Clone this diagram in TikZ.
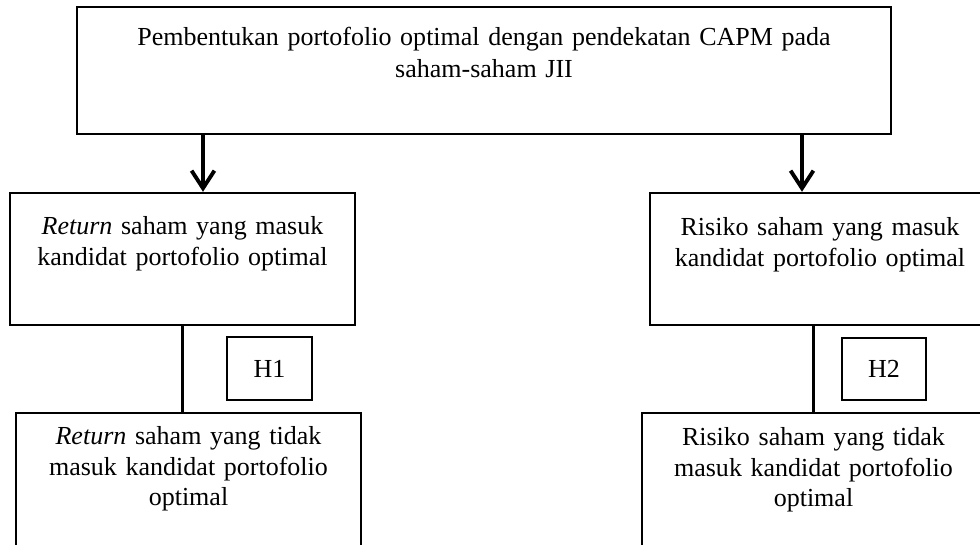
\documentclass[tikz,border=0pt]{standalone}
\usepackage{fontspec}
\setmainfont{Liberation Serif}
\usetikzlibrary{arrows.meta,positioning}
\tikzset{
    kotak/.style={draw, line width=1.4pt, inner sep=0pt, font=\fontsize{14.8}{17.5}\selectfont},
    teks/.style={align=center, text width=6.6cm, inner sep=0pt, anchor=base, font=\fontsize{14.8}{17.3}\selectfont},
    garis/.style={line width=2.2pt},
    panah/.style={line width=2.2pt, -{Straight Barb[length=10pt,width=13pt]}}
}

\begin{document}
\begin{tikzpicture}
    % page size
    \fill[white] (0,0) rectangle (19.6,-10.88);
    \useasboundingbox (0,0) rectangle (19.6,-10.88);

    % title
    \node[kotak, minimum width=16.28cm, minimum height=2.54cm] (judul) at (9.68,-1.41) {};
    \node[teks, text width=15cm, font=\fontsize{14.8}{18.2}\selectfont] (judulTeks) at ([yshift=-0.8cm]judul.north)
        {Pembentukan portofolio optimal dengan pendekatan CAPM pada\\ saham-saham JII};

    % return
    \node[kotak, minimum width=6.9cm, minimum height=2.64cm] (retMasuk) at (3.65,-5.18) {};
    \node[teks] (retMasukTeks) at ([yshift=-0.86cm]retMasuk.north)
        {\textit{Return} saham yang masuk\\ kandidat portofolio optimal};
    \node[kotak, minimum width=6.9cm, minimum height=3.14cm] (retTidak) at (3.77,-9.83) {};
    \node[teks] (retTidakTeks) at ([yshift=-0.66cm]retTidak.north)
        {\textit{Return} saham yang tidak\\ masuk kandidat portofolio\\ optimal};
    \node[kotak, minimum width=1.7cm, minimum height=1.26cm] (h1) at (5.39,-7.37) {H1};

    % risiko
    \node[kotak, minimum width=6.8cm, minimum height=2.64cm] (risMasuk) at (16.4,-5.18) {};
    \node[teks] (risMasukTeks) at ([yshift=-0.88cm]risMasuk.north)
        {Risiko saham yang masuk\\ kandidat portofolio optimal};
    \node[kotak, minimum width=6.86cm, minimum height=3.14cm] (risTidak) at (16.27,-9.83) {};
    \node[teks] (risTidakTeks) at ([yshift=-0.68cm]risTidak.north)
        {Risiko saham yang tidak\\ masuk kandidat portofolio\\ optimal};
    \node[kotak, minimum width=1.68cm, minimum height=1.24cm] (h2) at (17.68,-7.38) {H2};

    % connectors
    \coordinate (ujungKiri) at ([xshift=0.41cm]retMasuk.north);
    \coordinate (ujungKanan) at ([xshift=-0.36cm]risMasuk.north);
    \draw[panah] (ujungKiri |- judul.south) -- (ujungKiri);
    \draw[panah] (ujungKanan |- judul.south) -- (ujungKanan);
    \draw[garis] (retMasuk.south) -- (retTidak.north -| retMasuk.south);
    \draw[garis] (risTidak.north |- risMasuk.south) -- (risTidak.north);
\end{tikzpicture}
\end{document}
